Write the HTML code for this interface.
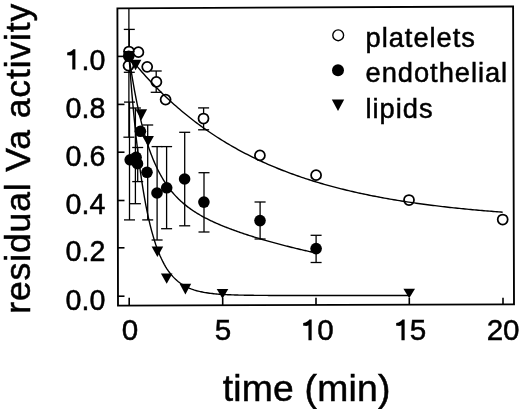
<!DOCTYPE html>
<html><head><meta charset="utf-8"><style>
html,body{margin:0;padding:0;background:#fff;}
body{width:520px;height:409px;overflow:hidden;font-family:"Liberation Sans",sans-serif;}
svg{display:block;filter:grayscale(1);}
</style></head><body>
<svg width="520" height="409" viewBox="0 0 520 409">
<rect width="520" height="409" fill="#fff"/>
<polygon points="117.4,8.3 513.1,6.5 514,304.3 118,305.6" fill="none" stroke="#000" stroke-width="1.85" stroke-linejoin="miter"/>
<line x1="117.5" y1="56.4" x2="124.5" y2="56.4" stroke="#000" stroke-width="1.6"/>
<line x1="117.5" y1="104.4" x2="124.5" y2="104.4" stroke="#000" stroke-width="1.6"/>
<line x1="117.5" y1="152.2" x2="124.5" y2="152.2" stroke="#000" stroke-width="1.6"/>
<line x1="117.5" y1="200.5" x2="124.5" y2="200.5" stroke="#000" stroke-width="1.6"/>
<line x1="117.5" y1="247.8" x2="124.5" y2="247.8" stroke="#000" stroke-width="1.6"/>
<line x1="117.5" y1="296.2" x2="124.5" y2="296.2" stroke="#000" stroke-width="1.6"/>
<line x1="129.2" y1="305" x2="129.2" y2="297.8" stroke="#000" stroke-width="1.6"/>
<line x1="222.7" y1="305" x2="222.7" y2="297.8" stroke="#000" stroke-width="1.6"/>
<line x1="316.0" y1="305" x2="316.0" y2="297.8" stroke="#000" stroke-width="1.6"/>
<line x1="409.3" y1="305" x2="409.3" y2="297.8" stroke="#000" stroke-width="1.6"/>
<line x1="503.0" y1="305" x2="503.0" y2="297.8" stroke="#000" stroke-width="1.6"/>
<line x1="129.3" y1="29.4" x2="129.3" y2="72.3" stroke="#000" stroke-width="1.3"/><line x1="123.80000000000001" y1="29.4" x2="134.8" y2="29.4" stroke="#000" stroke-width="1.3"/><line x1="123.80000000000001" y1="72.3" x2="134.8" y2="72.3" stroke="#000" stroke-width="1.3"/>
<line x1="156.2" y1="71" x2="156.2" y2="92.3" stroke="#000" stroke-width="1.3"/><line x1="150.7" y1="71" x2="161.7" y2="71" stroke="#000" stroke-width="1.3"/><line x1="150.7" y1="92.3" x2="161.7" y2="92.3" stroke="#000" stroke-width="1.3"/>
<line x1="203.6" y1="107.9" x2="203.6" y2="129.8" stroke="#000" stroke-width="1.3"/><line x1="198.1" y1="107.9" x2="209.1" y2="107.9" stroke="#000" stroke-width="1.3"/><line x1="198.1" y1="129.8" x2="209.1" y2="129.8" stroke="#000" stroke-width="1.3"/>
<line x1="128.9" y1="8.5" x2="128.9" y2="137.2" stroke="#000" stroke-width="1.3"/><line x1="123.4" y1="137.2" x2="134.4" y2="137.2" stroke="#000" stroke-width="1.3"/>
<line x1="129.5" y1="102.1" x2="129.5" y2="219.9" stroke="#000" stroke-width="1.3"/><line x1="124.0" y1="102.1" x2="135.0" y2="102.1" stroke="#000" stroke-width="1.3"/><line x1="124.0" y1="219.9" x2="135.0" y2="219.9" stroke="#000" stroke-width="1.3"/>
<line x1="135.4" y1="108" x2="135.4" y2="203.7" stroke="#000" stroke-width="1.3"/><line x1="129.9" y1="108" x2="140.9" y2="108" stroke="#000" stroke-width="1.3"/><line x1="129.9" y1="203.7" x2="140.9" y2="203.7" stroke="#000" stroke-width="1.3"/>
<line x1="137.7" y1="147.5" x2="137.7" y2="181.6" stroke="#000" stroke-width="1.3"/><line x1="132.2" y1="147.5" x2="143.2" y2="147.5" stroke="#000" stroke-width="1.3"/><line x1="132.2" y1="181.6" x2="143.2" y2="181.6" stroke="#000" stroke-width="1.3"/>
<line x1="147.7" y1="125" x2="147.7" y2="219.9" stroke="#000" stroke-width="1.3"/><line x1="142.2" y1="125" x2="153.2" y2="125" stroke="#000" stroke-width="1.3"/><line x1="142.2" y1="219.9" x2="153.2" y2="219.9" stroke="#000" stroke-width="1.3"/>
<line x1="157.1" y1="146.6" x2="157.1" y2="240" stroke="#000" stroke-width="1.3"/><line x1="151.6" y1="146.6" x2="162.6" y2="146.6" stroke="#000" stroke-width="1.3"/><line x1="151.6" y1="240" x2="162.6" y2="240" stroke="#000" stroke-width="1.3"/>
<line x1="166.6" y1="146.6" x2="166.6" y2="228.7" stroke="#000" stroke-width="1.3"/><line x1="161.1" y1="146.6" x2="172.1" y2="146.6" stroke="#000" stroke-width="1.3"/><line x1="161.1" y1="228.7" x2="172.1" y2="228.7" stroke="#000" stroke-width="1.3"/>
<line x1="184.7" y1="132.3" x2="184.7" y2="225.8" stroke="#000" stroke-width="1.3"/><line x1="179.2" y1="132.3" x2="190.2" y2="132.3" stroke="#000" stroke-width="1.3"/><line x1="179.2" y1="225.8" x2="190.2" y2="225.8" stroke="#000" stroke-width="1.3"/>
<line x1="204.0" y1="172.7" x2="204.0" y2="232" stroke="#000" stroke-width="1.3"/><line x1="198.5" y1="172.7" x2="209.5" y2="172.7" stroke="#000" stroke-width="1.3"/><line x1="198.5" y1="232" x2="209.5" y2="232" stroke="#000" stroke-width="1.3"/>
<line x1="260.1" y1="202" x2="260.1" y2="239" stroke="#000" stroke-width="1.3"/><line x1="254.60000000000002" y1="202" x2="265.6" y2="202" stroke="#000" stroke-width="1.3"/><line x1="254.60000000000002" y1="239" x2="265.6" y2="239" stroke="#000" stroke-width="1.3"/>
<line x1="316.1" y1="235.3" x2="316.1" y2="262.5" stroke="#000" stroke-width="1.3"/><line x1="310.6" y1="235.3" x2="321.6" y2="235.3" stroke="#000" stroke-width="1.3"/><line x1="310.6" y1="262.5" x2="321.6" y2="262.5" stroke="#000" stroke-width="1.3"/>
<circle cx="129" cy="51.5" r="5.0" fill="#fff" stroke="#000" stroke-width="1.75"/>
<circle cx="128.5" cy="65.6" r="5.0" fill="#fff" stroke="#000" stroke-width="1.75"/>
<circle cx="138.4" cy="52.2" r="5.0" fill="#fff" stroke="#000" stroke-width="1.75"/>
<circle cx="147.2" cy="66.8" r="5.0" fill="#fff" stroke="#000" stroke-width="1.75"/>
<circle cx="156.4" cy="81.9" r="5.0" fill="#fff" stroke="#000" stroke-width="1.75"/>
<circle cx="165.6" cy="99.6" r="5.0" fill="#fff" stroke="#000" stroke-width="1.75"/>
<circle cx="203.5" cy="118.5" r="5.0" fill="#fff" stroke="#000" stroke-width="1.75"/>
<circle cx="259.9" cy="155.4" r="5.0" fill="#fff" stroke="#000" stroke-width="1.75"/>
<circle cx="316.1" cy="175.2" r="5.0" fill="#fff" stroke="#000" stroke-width="1.75"/>
<circle cx="409" cy="200" r="5.0" fill="#fff" stroke="#000" stroke-width="1.75"/>
<circle cx="502.7" cy="219.5" r="5.0" fill="#fff" stroke="#000" stroke-width="1.75"/>
<circle cx="128.7" cy="56.2" r="5.8" fill="#000"/>
<circle cx="130.2" cy="159.8" r="5.8" fill="#000"/>
<circle cx="136.1" cy="157.3" r="5.8" fill="#000"/>
<circle cx="137.5" cy="163.7" r="5.8" fill="#000"/>
<circle cx="140.4" cy="131.3" r="5.8" fill="#000"/>
<circle cx="147" cy="172.3" r="5.8" fill="#000"/>
<circle cx="157" cy="193" r="5.8" fill="#000"/>
<circle cx="166.7" cy="187.8" r="5.8" fill="#000"/>
<circle cx="184.6" cy="179" r="5.8" fill="#000"/>
<circle cx="203.9" cy="202.1" r="5.8" fill="#000"/>
<circle cx="260" cy="220.6" r="5.8" fill="#000"/>
<circle cx="316.1" cy="248.6" r="5.8" fill="#000"/>
<polygon points="123.20,51 134.80,51 129.00,61.5" fill="#000"/>
<polygon points="129.80,59.8 141.40,59.8 135.60,70.2" fill="#000"/>
<polygon points="135.50,109.3 147.10,109.3 141.30,120.3" fill="#000"/>
<polygon points="142.30,136.1 153.90,136.1 148.10,146.6" fill="#000"/>
<polygon points="151.60,246.6 163.20,246.6 157.40,257" fill="#000"/>
<polygon points="160.90,273.4 172.50,273.4 166.70,283.8" fill="#000"/>
<polygon points="179.60,283.8 191.20,283.8 185.40,294.6" fill="#000"/>
<polygon points="216.70,289 228.30,289 222.50,298.8" fill="#000"/>
<polygon points="403.40,288.7 415.00,288.7 409.20,298.3" fill="#000"/>
<polyline points="129.00,56.50 130.88,58.84 132.76,61.15 134.63,63.42 136.51,65.66 138.39,67.87 140.27,70.05 142.14,72.20 144.02,74.32 145.90,76.41 147.78,78.47 149.65,80.49 151.53,82.50 153.41,84.47 155.29,86.41 157.16,88.33 159.04,90.22 160.92,92.08 162.80,93.92 164.67,95.73 166.55,97.51 168.43,99.27 170.31,101.01 172.18,102.72 174.06,104.40 175.94,106.07 177.82,107.71 179.69,109.32 181.57,110.91 183.45,112.48 185.33,114.03 187.21,115.56 189.08,117.06 190.96,118.55 192.84,120.01 194.72,121.45 196.59,122.87 198.47,124.27 200.35,125.65 202.23,127.01 204.10,128.36 205.98,129.68 207.86,130.98 209.74,132.27 211.61,133.54 213.49,134.79 215.37,136.02 217.25,137.24 219.12,138.43 221.00,139.61 222.88,140.78 224.76,141.93 226.63,143.06 228.51,144.17 230.39,145.27 232.27,146.36 234.14,147.43 236.02,148.48 237.90,149.52 239.78,150.54 241.65,151.55 243.53,152.55 245.41,153.53 247.29,154.49 249.17,155.45 251.04,156.39 252.92,157.31 254.80,158.23 256.68,159.13 258.55,160.02 260.43,160.89 262.31,161.76 264.19,162.61 266.06,163.45 267.94,164.27 269.82,165.09 271.70,165.89 273.57,166.68 275.45,167.46 277.33,168.23 279.21,168.99 281.08,169.74 282.96,170.48 284.84,171.21 286.72,171.92 288.59,172.63 290.47,173.33 292.35,174.02 294.23,174.69 296.10,175.36 297.98,176.02 299.86,176.67 301.74,177.31 303.62,177.94 305.49,178.56 307.37,179.17 309.25,179.78 311.13,180.37 313.00,180.96 314.88,181.54 316.76,182.11 318.64,182.67 320.51,183.23 322.39,183.78 324.27,184.31 326.15,184.85 328.02,185.37 329.90,185.89 331.78,186.40 333.66,186.90 335.53,187.39 337.41,187.88 339.29,188.36 341.17,188.84 343.04,189.30 344.92,189.77 346.80,190.22 348.68,190.67 350.55,191.11 352.43,191.55 354.31,191.97 356.19,192.40 358.06,192.82 359.94,193.23 361.82,193.63 363.70,194.03 365.58,194.43 367.45,194.81 369.33,195.20 371.21,195.58 373.09,195.95 374.96,196.31 376.84,196.68 378.72,197.03 380.60,197.38 382.47,197.73 384.35,198.07 386.23,198.41 388.11,198.74 389.98,199.07 391.86,199.39 393.74,199.71 395.62,200.02 397.49,200.33 399.37,200.64 401.25,200.94 403.13,201.24 405.00,201.53 406.88,201.82 408.76,202.10 410.64,202.38 412.51,202.66 414.39,202.93 416.27,203.20 418.15,203.46 420.03,203.72 421.90,203.98 423.78,204.23 425.66,204.48 427.54,204.73 429.41,204.97 431.29,205.21 433.17,205.45 435.05,205.68 436.92,205.91 438.80,206.13 440.68,206.36 442.56,206.58 444.43,206.79 446.31,207.01 448.19,207.22 450.07,207.43 451.94,207.63 453.82,207.83 455.70,208.03 457.58,208.23 459.45,208.42 461.33,208.61 463.21,208.80 465.09,208.98 466.96,209.17 468.84,209.35 470.72,209.52 472.60,209.70 474.47,209.87 476.35,210.04 478.23,210.21 480.11,210.37 481.99,210.54 483.86,210.70 485.74,210.86 487.62,211.01 489.50,211.17 491.37,211.32 493.25,211.47 495.13,211.61 497.01,211.76 498.88,211.90 500.76,212.04 502.64,212.18" fill="none" stroke="#000" stroke-width="1.4"/>
<polyline points="129.00,56.50 129.92,62.79 130.84,68.83 131.76,74.61 132.69,80.16 133.61,85.47 134.53,90.57 135.45,95.46 136.37,100.15 137.29,104.65 138.21,108.97 139.14,113.11 140.06,117.09 140.98,120.91 141.90,124.58 142.82,128.10 143.74,131.48 144.66,134.73 145.59,137.86 146.51,140.86 147.43,143.75 148.35,146.53 149.27,149.20 150.19,151.77 151.11,154.24 152.03,156.62 152.96,158.92 153.88,161.13 154.80,163.25 155.72,165.31 156.64,167.28 157.56,169.19 158.48,171.03 159.41,172.80 160.33,174.52 161.25,176.17 162.17,177.77 163.09,179.31 164.01,180.80 164.93,182.24 165.86,183.64 166.78,184.99 167.70,186.29 168.62,187.56 169.54,188.78 170.46,189.97 171.38,191.12 172.31,192.23 173.23,193.31 174.15,194.36 175.07,195.38 175.99,196.37 176.91,197.34 177.83,198.27 178.76,199.18 179.68,200.07 180.60,200.93 181.52,201.77 182.44,202.58 183.36,203.38 184.28,204.16 185.21,204.91 186.13,205.65 187.05,206.37 187.97,207.08 188.89,207.77 189.81,208.44 190.73,209.10 191.65,209.74 192.58,210.37 193.50,210.99 194.42,211.59 195.34,212.18 196.26,212.76 197.18,213.33 198.10,213.89 199.03,214.44 199.95,214.98 200.87,215.50 201.79,216.02 202.71,216.53 203.63,217.03 204.55,217.53 205.48,218.01 206.40,218.49 207.32,218.96 208.24,219.42 209.16,219.88 210.08,220.33 211.00,220.77 211.93,221.21 212.85,221.64 213.77,222.07 214.69,222.49 215.61,222.90 216.53,223.31 217.45,223.71 218.38,224.11 219.30,224.51 220.22,224.90 221.14,225.28 222.06,225.66 222.98,226.04 223.90,226.41 224.83,226.78 225.75,227.15 226.67,227.51 227.59,227.87 228.51,228.22 229.43,228.58 230.35,228.92 231.28,229.27 232.20,229.61 233.12,229.95 234.04,230.28 234.96,230.62 235.88,230.95 236.80,231.28 237.72,231.60 238.65,231.92 239.57,232.24 240.49,232.56 241.41,232.87 242.33,233.19 243.25,233.50 244.17,233.80 245.10,234.11 246.02,234.41 246.94,234.71 247.86,235.01 248.78,235.31 249.70,235.61 250.62,235.90 251.55,236.19 252.47,236.48 253.39,236.77 254.31,237.05 255.23,237.34 256.15,237.62 257.07,237.90 258.00,238.18 258.92,238.45 259.84,238.73 260.76,239.00 261.68,239.27 262.60,239.54 263.52,239.81 264.45,240.08 265.37,240.35 266.29,240.61 267.21,240.87 268.13,241.13 269.05,241.39 269.97,241.65 270.90,241.91 271.82,242.16 272.74,242.42 273.66,242.67 274.58,242.92 275.50,243.17 276.42,243.42 277.34,243.67 278.27,243.91 279.19,244.16 280.11,244.40 281.03,244.64 281.95,244.88 282.87,245.12 283.79,245.36 284.72,245.60 285.64,245.83 286.56,246.07 287.48,246.30 288.40,246.53 289.32,246.77 290.24,247.00 291.17,247.22 292.09,247.45 293.01,247.68 293.93,247.90 294.85,248.13 295.77,248.35 296.69,248.57 297.62,248.79 298.54,249.01 299.46,249.23 300.38,249.45 301.30,249.67 302.22,249.88 303.14,250.10 304.07,250.31 304.99,250.52 305.91,250.73 306.83,250.94 307.75,251.15 308.67,251.36 309.59,251.57 310.52,251.78 311.44,251.98 312.36,252.19" fill="none" stroke="#000" stroke-width="1.4"/>
<polyline points="129.00,56.50 130.41,75.20 131.82,92.44 133.23,108.33 134.64,122.98 136.05,136.48 137.46,148.92 138.87,160.39 140.28,170.96 141.69,180.71 143.10,189.69 144.51,197.97 145.92,205.60 147.33,212.64 148.74,219.12 150.15,225.10 151.56,230.61 152.98,235.68 154.39,240.37 155.80,244.68 157.21,248.66 158.62,252.32 160.03,255.70 161.44,258.81 162.85,261.69 164.26,264.33 165.67,266.77 167.08,269.02 168.49,271.09 169.90,273.00 171.31,274.76 172.72,276.38 174.13,277.88 175.54,279.26 176.95,280.53 178.36,281.70 179.77,282.78 181.18,283.78 182.59,284.69 184.00,285.54 185.41,286.32 186.82,287.04 188.23,287.70 189.64,288.31 191.05,288.87 192.46,289.39 193.87,289.87 195.28,290.31 196.69,290.72 198.10,291.09 199.52,291.44 200.93,291.75 202.34,292.05 203.75,292.32 205.16,292.57 206.57,292.80 207.98,293.01 209.39,293.20 210.80,293.38 212.21,293.55 213.62,293.70 215.03,293.84 216.44,293.97 217.85,294.09 219.26,294.20 220.67,294.30 222.08,294.40 223.49,294.48 224.90,294.56 226.31,294.64 227.72,294.70 229.13,294.77 230.54,294.82 231.95,294.88 233.36,294.92 234.77,294.97 236.18,295.01 237.59,295.05 239.00,295.08 240.41,295.12 241.82,295.15 243.23,295.17 244.64,295.20 246.06,295.22 247.47,295.25 248.88,295.27 250.29,295.28 251.70,295.30 253.11,295.32 254.52,295.33 255.93,295.34 257.34,295.36 258.75,295.37 260.16,295.38 261.57,295.39 262.98,295.40 264.39,295.40 265.80,295.41 267.21,295.42 268.62,295.43 270.03,295.43 271.44,295.44 272.85,295.44 274.26,295.45 275.67,295.45 277.08,295.45 278.49,295.46 279.90,295.46 281.31,295.46 282.72,295.47 284.13,295.47 285.54,295.47 286.95,295.47 288.36,295.48 289.77,295.48 291.18,295.48 292.59,295.48 294.01,295.48 295.42,295.48 296.83,295.49 298.24,295.49 299.65,295.49 301.06,295.49 302.47,295.49 303.88,295.49 305.29,295.49 306.70,295.49 308.11,295.49 309.52,295.49 310.93,295.49 312.34,295.49 313.75,295.49 315.16,295.49 316.57,295.50 317.98,295.50 319.39,295.50 320.80,295.50 322.21,295.50 323.62,295.50 325.03,295.50 326.44,295.50 327.85,295.50 329.26,295.50 330.67,295.50 332.08,295.50 333.49,295.50 334.90,295.50 336.31,295.50 337.72,295.50 339.13,295.50 340.55,295.50 341.96,295.50 343.37,295.50 344.78,295.50 346.19,295.50 347.60,295.50 349.01,295.50 350.42,295.50 351.83,295.50 353.24,295.50 354.65,295.50 356.06,295.50 357.47,295.50 358.88,295.50 360.29,295.50 361.70,295.50 363.11,295.50 364.52,295.50 365.93,295.50 367.34,295.50 368.75,295.50 370.16,295.50 371.57,295.50 372.98,295.50 374.39,295.50 375.80,295.50 377.21,295.50 378.62,295.50 380.03,295.50 381.44,295.50 382.85,295.50 384.26,295.50 385.67,295.50 387.09,295.50 388.50,295.50 389.91,295.50 391.32,295.50 392.73,295.50 394.14,295.50 395.55,295.50 396.96,295.50 398.37,295.50 399.78,295.50 401.19,295.50 402.60,295.50 404.01,295.50 405.42,295.50 406.83,295.50 408.24,295.50 409.65,295.50" fill="none" stroke="#000" stroke-width="1.4"/>
<circle cx="338.2" cy="35.3" r="5.4" fill="#fff" stroke="#000" stroke-width="1.4"/>
<circle cx="338" cy="70.2" r="6" fill="#000"/>
<polygon points="331.8,99.4 344.2,99.4 338,111" fill="#000"/>
<text x="365.6" y="46.6" font-family="Liberation Sans, sans-serif" stroke="#000" stroke-width="0.5" font-size="27.3" letter-spacing="0.95">platelets</text>
<text x="365.6" y="82" font-family="Liberation Sans, sans-serif" stroke="#000" stroke-width="0.5" font-size="27.3" letter-spacing="0.95">endothelial</text>
<text x="365.6" y="117.6" font-family="Liberation Sans, sans-serif" stroke="#000" stroke-width="0.5" font-size="27.3" letter-spacing="0.95">lipids</text>
<text x="105.3" y="117.7" font-family="Liberation Sans, sans-serif" stroke="#000" stroke-width="0.5" font-size="28.6" text-anchor="end">0.8</text>
<text x="105.3" y="165.5" font-family="Liberation Sans, sans-serif" stroke="#000" stroke-width="0.5" font-size="28.6" text-anchor="end">0.6</text>
<text x="105.3" y="213.8" font-family="Liberation Sans, sans-serif" stroke="#000" stroke-width="0.5" font-size="28.6" text-anchor="end">0.4</text>
<text x="105.3" y="261.1" font-family="Liberation Sans, sans-serif" stroke="#000" stroke-width="0.5" font-size="28.6" text-anchor="end">0.2</text>
<text x="105.3" y="309.5" font-family="Liberation Sans, sans-serif" stroke="#000" stroke-width="0.5" font-size="28.6" text-anchor="end">0.0</text>
<text x="105.3" y="69.7" font-family="Liberation Sans, sans-serif" stroke="#000" stroke-width="0.5" font-size="28.6" text-anchor="end">.0</text>
<path d="M75.40,49.20 L75.40,69.60 L72.30,69.60 L72.30,55.00 C71.00,55.80 69.00,55.40 67.20,55.30 L67.20,52.60 C70.40,52.20 72.50,50.40 73.20,49.20 Z" fill="#000"/>
<text x="130" y="340.4" font-family="Liberation Sans, sans-serif" stroke="#000" stroke-width="0.5" font-size="29.6" text-anchor="middle">0</text>
<text x="223" y="340.4" font-family="Liberation Sans, sans-serif" stroke="#000" stroke-width="0.5" font-size="29.6" text-anchor="middle">5</text>
<text x="503.1" y="340.4" font-family="Liberation Sans, sans-serif" stroke="#000" stroke-width="0.5" font-size="29.6" text-anchor="middle">20</text>
<text x="317.2" y="340.4" font-family="Liberation Sans, sans-serif" stroke="#000" stroke-width="0.5" font-size="29.6">0</text>
<path d="M311.65,319.40 L311.65,340.30 L308.45,340.30 L308.45,325.37 C307.11,326.20 305.05,325.79 303.20,325.68 L303.20,322.90 C306.50,322.49 308.66,320.64 309.38,319.40 Z" fill="#000"/>
<text x="409.8" y="340.4" font-family="Liberation Sans, sans-serif" stroke="#000" stroke-width="0.5" font-size="29.6">5</text>
<path d="M404.65,319.40 L404.65,340.30 L401.45,340.30 L401.45,325.37 C400.11,326.20 398.05,325.79 396.20,325.68 L396.20,322.90 C399.50,322.49 401.66,320.64 402.38,319.40 Z" fill="#000"/>
<text x="222.8" y="401" font-family="Liberation Sans, sans-serif" stroke="#000" stroke-width="0.5" font-size="37.3" letter-spacing="0.2">time (min)</text>
<text transform="translate(29.8,313.8) rotate(-90)" x="0" y="0" font-family="Liberation Sans, sans-serif" stroke="#000" stroke-width="0.5" font-size="35.6" letter-spacing="0.85">residual Va activity</text>
</svg>
</body></html>
